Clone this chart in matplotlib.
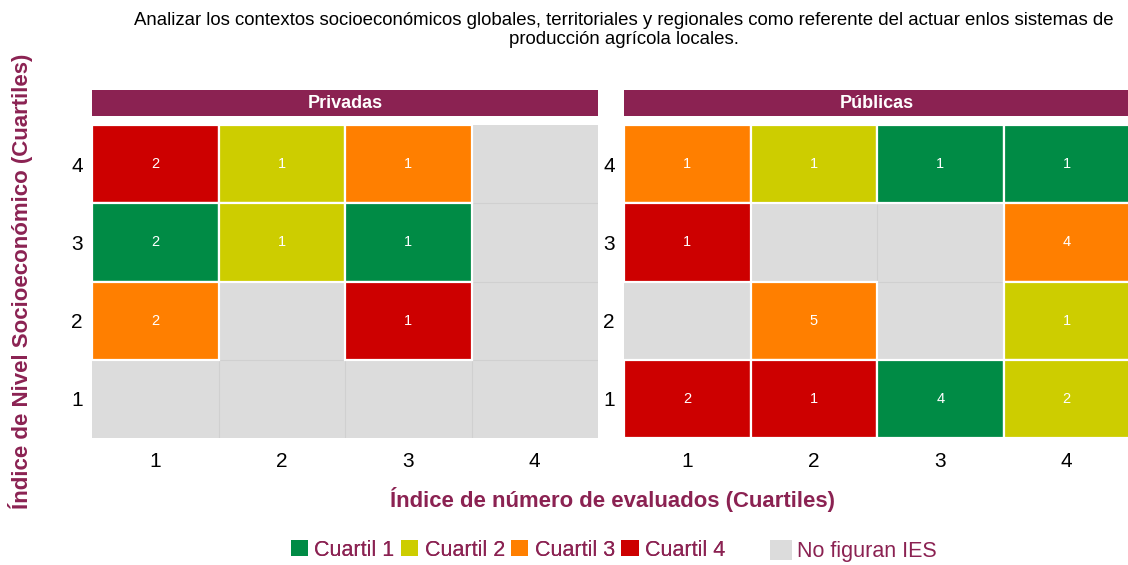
import matplotlib
matplotlib.use("Agg")
import matplotlib.pyplot as plt
from matplotlib.patches import Patch, Rectangle

plt.rcParams['font.family'] = ['Liberation Sans', 'DejaVu Sans']

title = "Analizar los contextos socioeconómicos globales, territoriales y regionales como referente del actuar enlos sistemas de\nproducción agrícola locales."
panels = ["Privadas", "Públicas"]
ticks = [1, 2, 3, 4]

# (x quartile, y quartile, category quartile, count)
priv_x = [1, 2, 3, 1, 2, 3, 1, 3]
priv_y = [4, 4, 4, 3, 3, 3, 2, 2]
priv_q = [4, 2, 3, 1, 2, 1, 3, 4]
priv_n = [2, 1, 1, 2, 1, 1, 2, 1]

pub_x = [1, 2, 3, 4, 1, 4, 2, 4, 1, 2, 3, 4]
pub_y = [4, 4, 4, 4, 3, 3, 2, 2, 1, 1, 1, 1]
pub_q = [3, 2, 1, 1, 4, 3, 3, 2, 4, 4, 1, 2]
pub_n = [1, 1, 1, 1, 1, 4, 5, 1, 2, 1, 4, 2]

legend_labels = ["Cuartil 1", "Cuartil 2", "Cuartil 3", "Cuartil 4"]
colors = {1: "#008B45", 2: "#CDCD00", 3: "#FF7F00", 4: "#CD0000"}
gray = "#DCDCDC"
maroon = "#8B2252"

W, H = 1128, 565
fig = plt.figure(figsize=(W / 100, H / 100), dpi=100)

def fx(px):
    return px / W

def fy(py):
    return 1 - py / H

data = [(priv_x, priv_y, priv_q, priv_n), (pub_x, pub_y, pub_q, pub_n)]
lefts = [92, 624]
pw = 506
top, bot = 125, 438
for i, (name, (xs, ys, qs, ns)) in enumerate(zip(panels, data)):
    l = lefts[i]
    ax = fig.add_axes([fx(l), fy(bot), pw / W, (bot - top) / H])
    ax.set_facecolor(gray)
    ax.set_xlim(0.5, 4.5)
    ax.set_ylim(0.5, 4.5)
    for v in [1.5, 2.5, 3.5]:
        ax.axvline(v, color="#D0D0D0", lw=0.8, zorder=1)
        ax.axhline(v, color="#D0D0D0", lw=0.8, zorder=1)
    for x, y, q, n in zip(xs, ys, qs, ns):
        ax.add_patch(Rectangle((x - 0.5, y - 0.5), 1, 1, facecolor=colors[q],
                               edgecolor="white", lw=1.6, zorder=2))
        ax.text(x, y, str(n), color="white", ha="center", va="center",
                fontsize=10.5, zorder=3)
    ax.set_xticks(ticks)
    ax.set_yticks(ticks)
    ax.set_xticklabels([str(t) for t in ticks], fontsize=15)
    ax.set_yticklabels([str(t) for t in ticks], fontsize=15)
    ax.tick_params(axis="x", length=0, pad=10)
    ax.tick_params(axis="y", length=0, pad=6.5)
    for s in ax.spines.values():
        s.set_visible(False)
    # strip
    sax = fig.add_axes([fx(l), fy(116), pw / W, 26 / H])
    sax.set_facecolor(maroon)
    sax.set_xticks([]); sax.set_yticks([])
    for s in sax.spines.values():
        s.set_visible(False)
    sax.text(0.5, 0.5, name, color="white", fontsize=13, fontweight="bold",
             ha="center", va="center", transform=sax.transAxes)

fig.text(fx(624), fy(30), title, ha="center", va="center", fontsize=13.4,
         color="black", linespacing=1.2)
fig.text(fx(612), fy(500), "Índice de número de evaluados (Cuartiles)",
         ha="center", va="center", fontsize=15.9, fontweight="bold", color=maroon)
fig.text(fx(21), fy(281), "Índice de Nivel Socioeconómico (Cuartiles)",
         ha="center", va="center", rotation=90, fontsize=16,
         fontweight="bold", color=maroon)

h1 = [Patch(facecolor=colors[k], edgecolor="none") for k in [1, 2, 3, 4]]
leg1 = fig.legend(h1, legend_labels, loc="center", ncol=4,
                  bbox_to_anchor=(fx(508), fy(550)), frameon=False,
                  fontsize=15.5, handlelength=0.8, handleheight=0.8,
                  handletextpad=0.3, columnspacing=0.3, labelcolor=maroon)
fig.add_artist(leg1)
h2 = [Patch(facecolor=gray, edgecolor="none")]
fig.legend(h2, ["No figuran IES"], loc="center",
           bbox_to_anchor=(fx(853), fy(551)), frameon=False, fontsize=15.5,
           handlelength=1.05, handleheight=1.05, handletextpad=0.2,
           labelcolor=maroon)

fig.savefig("out.png", dpi=100)
